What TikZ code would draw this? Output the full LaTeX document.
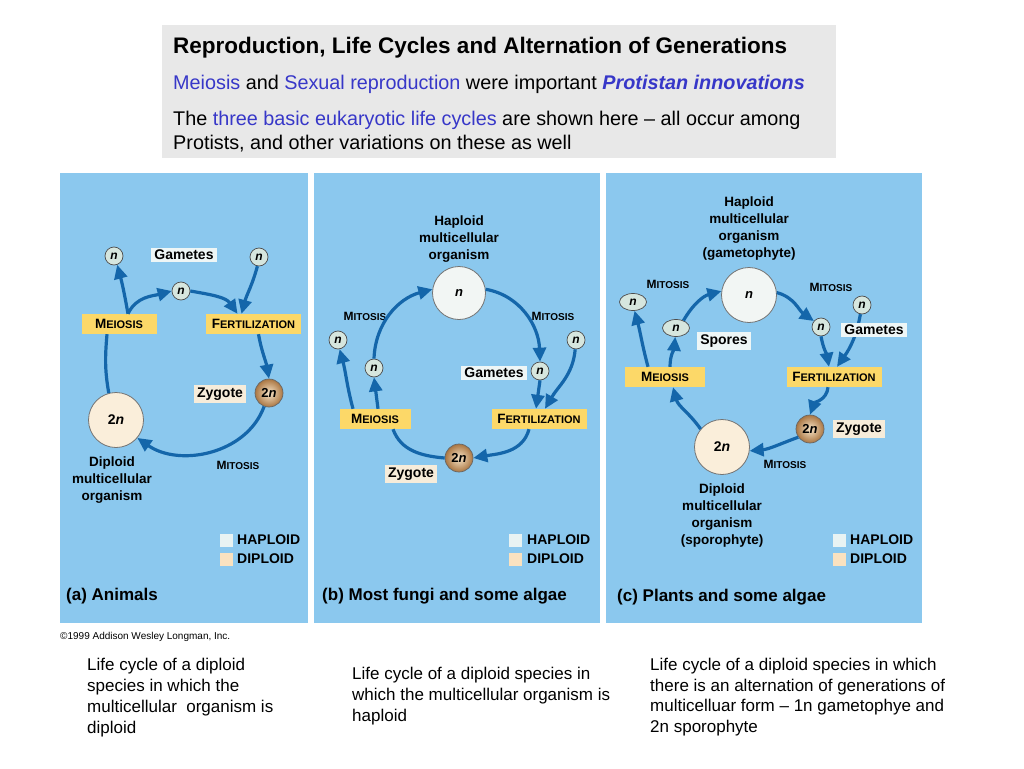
\documentclass[tikz,border=0pt]{standalone}
\usepackage{fontspec}
\setmainfont{Liberation Sans}
\usetikzlibrary{arrows.meta,shapes.geometric}
\definecolor{panel}{RGB}{139,200,238}
\definecolor{headg}{RGB}{232,232,232}
\definecolor{hblue}{RGB}{55,55,200}
\definecolor{boxy}{RGB}{252,216,104}
\definecolor{labw}{RGB}{238,246,246}
\definecolor{labc}{RGB}{246,236,218}
\definecolor{nfill}{RGB}{214,230,222}
\definecolor{bignf}{RGB}{242,246,244}
\definecolor{dipf}{RGB}{250,238,218}
\definecolor{zin}{RGB}{246,228,200}
\definecolor{zout}{RGB}{170,118,66}
\definecolor{arrowc}{RGB}{20,102,170}
\definecolor{legh}{RGB}{232,243,243}
\definecolor{legd}{RGB}{250,226,192}
\newcommand\myfs[2]{\fontsize{#1}{#2}\selectfont}
\newcommand\ysc[2]{{\myfs{13.5}{14}#1}{\myfs{11}{14}#2}}
\newcommand\msc[2]{{\myfs{12}{13}#1}{\myfs{10}{13}#2}}
\newcommand\twon{2\textit{n}}
\tikzset{
  panelbg/.style={fill=panel,draw=none},
  ybox/.style={fill=boxy,inner sep=0pt,minimum height=20pt,font=\bfseries},
  wlab/.style={fill=labw,inner xsep=3pt,inner ysep=2.5pt,font=\bfseries\myfs{14}{16}},
  clab/.style={fill=labc,inner xsep=3pt,inner ysep=2.5pt,font=\bfseries\myfs{14}{16}},
  blab/.style={align=center,inner sep=0pt,font=\bfseries\myfs{13.5}{17}},
  mit/.style={inner sep=0pt,font=\bfseries},
  ncirc/.style={circle,draw=black!70,line width=0.7pt,fill=nfill,minimum size=18pt,inner sep=0pt,font=\bfseries\itshape\myfs{12}{12}},
  nell/.style={ellipse,draw=black!70,line width=0.7pt,fill=nfill,minimum width=27pt,minimum height=17pt,inner sep=0pt,font=\bfseries\itshape\myfs{12}{12}},
  bign/.style={circle,draw=black!55,line width=0.8pt,fill=bignf,minimum size=53pt,inner sep=0pt,font=\bfseries\itshape\myfs{13}{13}},
  big2n/.style={circle,draw=black!55,line width=0.8pt,fill=dipf,minimum size=55pt,inner sep=0pt,font=\bfseries\myfs{14}{14}},
  zyg/.style={circle,draw=black!60,line width=0.7pt,inner color=zin,outer color=zout,minimum size=28pt,inner sep=0pt,font=\bfseries\myfs{13}{13}},
  flow/.style={draw=arrowc,line width=3.2pt,-{Triangle[length=14pt,width=13pt]}},
  flown/.style={draw=arrowc,line width=3.2pt},
  legsq/.style={minimum size=13pt,inner sep=0pt},
  legtx/.style={anchor=west,inner sep=0pt,font=\bfseries\myfs{14}{14}},
  ptitle/.style={anchor=west,inner sep=0pt,font=\bfseries\myfs{17}{17}},
  htxt/.style={anchor=base west,inner sep=0pt,font=\myfs{19.8}{20}},
  btxt/.style={anchor=base west,inner sep=0pt,font=\myfs{17}{18}}
}
\begin{document}
\begin{tikzpicture}[x=1pt,y=-1pt]
\useasboundingbox (0,0) rectangle (1024,768);
\fill[white] (0,0) rectangle (1024,768);
% header
\fill[headg] (162,25) rectangle (836,158);
\node[anchor=base west,inner sep=0pt,font=\bfseries\myfs{22.5}{23}] (title) at (173,54) {Reproduction, Life Cycles and Alternation of Generations};
\node[htxt] (h2) at (173,89) {\textcolor{hblue}{Meiosis} and \textcolor{hblue}{Sexual reproduction} were important \textcolor{hblue}{\bfseries\itshape Protistan innovations}};
\node[htxt] (h3) at (173,125) {The \textcolor{hblue}{three basic eukaryotic life cycles} are shown here – all occur among};
\node[htxt] (h4) at (173,149) {Protists, and other variations on these as well};
% panels
\fill[panelbg] (60,173) rectangle (308,623);
\fill[panelbg] (314,173) rectangle (600,623);
\fill[panelbg] (606,173) rectangle (922,623);

% ---------- panel (a)
\node[ncirc] (a1) at (114,256) {n};
\node[wlab] (aG) at (184,255) {Gametes};
\node[ncirc] (a2) at (259,257) {n};
\node[ncirc] (a3) at (181,291) {n};
\node[ybox,minimum width=75pt] (aM) at (119,324) {\ysc{M}{EIOSIS}};
\node[ybox,minimum width=95pt] (aF) at (253.5,324) {\ysc{F}{ERTILIZATION}};
\node[clab] (aZl) at (220,394) {Zygote};
\node[zyg] (aZ) at (269,393) {\twon};
\node[big2n] (aD) at (116,420) {\twon};
\node[blab] (aDl) at (112,480) {Diploid\\multicellular\\organism};
\node[mit] (aMit) at (238,465) {\msc{M}{ITOSIS}};
\draw[flown] (aD.105) to[out=100,in=-95] ([xshift=-12pt]aM.south);
\draw[flow] ([xshift=9pt]aM.north) to[out=100,in=-75] (a1.-70);
\draw[flow] ([xshift=9pt]aM.north) to[out=65,in=195] (a3.west);
\draw[flow] (a3.east) to[out=-10,in=125] ([xshift=-16pt]aF.north);
\draw[flow] (a2.-100) to[out=-105,in=75] ([xshift=-12pt]aF.north);
\draw[flow] ([xshift=5pt]aF.south) to[out=-80,in=100] (aZ.north);
\draw[flow] (aZ.-110) to[out=-110,in=-35] (aD.-40);
\node[legsq,fill=legh] (aLh) at (226,540) {};
\node[legsq,fill=legd] (aLd) at (226,559) {};
\node[legtx] (aLht) at (237,540) {HAPLOID};
\node[legtx] (aLdt) at (237,559) {DIPLOID};
\node[ptitle] (aT) at (66,596) {(a) Animals};
\node[anchor=west,inner sep=0pt,font=\myfs{10}{10}] (copy) at (60,637) {\textcopyright1999 Addison Wesley Longman, Inc.};

% ---------- panel (b)
\node[blab] (bHl) at (459,239) {Haploid\\multicellular\\organism};
\node[bign] (bN) at (459,293) {n};
\node[mit] (bMit1) at (365,316) {\msc{M}{ITOSIS}};
\node[mit] (bMit2) at (553,316) {\msc{M}{ITOSIS}};
\node[ncirc] (b1) at (338,340) {n};
\node[ncirc] (b2) at (374,368) {n};
\node[wlab] (bG) at (494,373) {Gametes};
\node[ncirc] (b3) at (540,371) {n};
\node[ncirc] (b4) at (576,340) {n};
\node[ybox,minimum width=71pt] (bM) at (375,419) {\ysc{M}{EIOSIS}};
\node[ybox,minimum width=95pt] (bF) at (539,419) {\ysc{F}{ERTILIZATION}};
\node[zyg] (bZ) at (459,458) {\twon};
\node[clab] (bZl) at (411,474) {Zygote};
\draw[flow] ([xshift=3pt]bM.north) -- (b2.south);
\draw[flow] ([xshift=-22pt]bM.north) to[out=105,in=-75] (b1.-80);
\draw[flow] (b2.north) to[out=88,in=195] (bN.172);
\draw[flow] (bN.8) to[out=-10,in=92] (b3.north);
\draw[flow] (b3.south) -- ([xshift=-3pt]bF.north);
\draw[flow] (b4.-95) to[out=-95,in=60] ([xshift=6pt]bF.north);
\draw[flow] ([xshift=-10pt]bF.south) to[out=-105,in=10] (bZ.east);
\draw[flown] (bZ.west) to[out=175,in=-70] ([xshift=18pt]bM.south);
\node[legsq,fill=legh] (bLh) at (515,540) {};
\node[legsq,fill=legd] (bLd) at (515,559) {};
\node[legtx] (bLht) at (527,540) {HAPLOID};
\node[legtx] (bLdt) at (527,559) {DIPLOID};
\node[ptitle] (bT) at (322,596) {(b) Most fungi and some algae};

% ---------- panel (c)
\node[blab] (cHl) at (749,229) {Haploid\\multicellular\\organism\\(gametophyte)};
\node[bign,minimum size=55pt] (cN) at (749,295) {n};
\node[mit] (cMit1) at (668,284) {\msc{M}{ITOSIS}};
\node[mit] (cMit2) at (831,287) {\msc{M}{ITOSIS}};
\node[nell] (c1) at (633,302) {n};
\node[nell] (c2) at (676,328) {n};
\node[wlab] (cS) at (724,341) {Spores};
\node[ncirc] (c3) at (862,305) {n};
\node[ncirc] (c4) at (821,327) {n};
\node[ybox,minimum width=80pt] (cM) at (665,377) {\ysc{M}{EIOSIS}};
\node[ybox,minimum width=95pt] (cF) at (834,377) {\ysc{F}{ERTILIZATION}};
\node[zyg] (cZ) at (810,429) {\twon};
\node[clab] (cZl) at (859,429) {Zygote};
\node[big2n] (cD) at (722,447) {\twon};
\node[mit] (cMit3) at (785,464) {\msc{M}{ITOSIS}};
\node[blab] (cDl) at (722,516) {Diploid\\multicellular\\organism\\(sporophyte)};
\draw[flow] (cD.140) to[out=125,in=-75] ([xshift=8pt]cM.south);
\draw[flow] ([xshift=-17pt]cM.north) to[out=105,in=-75] (c1.-80);
\draw[flow] ([xshift=5pt]cM.north) to[out=90,in=-95] (c2.-95);
\draw[flow] (c2.45) to[out=60,in=195] (cN.172);
\draw[flow] (cN.5) to[out=-15,in=145] (c4.140);
\draw[flow] (c4.south) to[out=-80,in=100] ([xshift=-5pt]cF.north);
\draw[flow] (c3.-100) to[out=-100,in=55] ([xshift=3pt]cF.north);
\draw[flow] ([xshift=-6pt]cF.south) to[out=-95,in=70] (cZ.north);
\draw[flow] (cZ.215) to[out=200,in=5] (cD.-8);
\node[wlab] (cG) at (874,330) {Gametes};
\node[legsq,fill=legh] (cLh) at (839,540) {};
\node[legsq,fill=legd] (cLd) at (839,559) {};
\node[legtx] (cLht) at (850,540) {HAPLOID};
\node[legtx] (cLdt) at (850,559) {DIPLOID};
\node[ptitle] (cT) at (617,597) {(c) Plants and some algae};

% ---------- captions
\node[btxt] (t1a) at (87,670) {Life cycle of a diploid};
\node[btxt] (t1b) at (87,691) {species in which the};
\node[btxt] (t1c) at (87,712) {multicellular\ \ organism is};
\node[btxt] (t1d) at (87,733) {diploid};
\node[btxt] (t2a) at (352,679) {Life cycle of a diploid species in};
\node[btxt] (t2b) at (352,700) {which the multicellular organism is};
\node[btxt] (t2c) at (352,721) {haploid};
\node[btxt] (t3a) at (650,670) {Life cycle of a diploid species in which};
\node[btxt] (t3b) at (650,691) {there is an alternation of generations of};
\node[btxt] (t3c) at (650,711) {multicelluar form – 1n gametophye and};
\node[btxt] (t3d) at (650,732) {2n sporophyte};
\end{tikzpicture}
\end{document}
